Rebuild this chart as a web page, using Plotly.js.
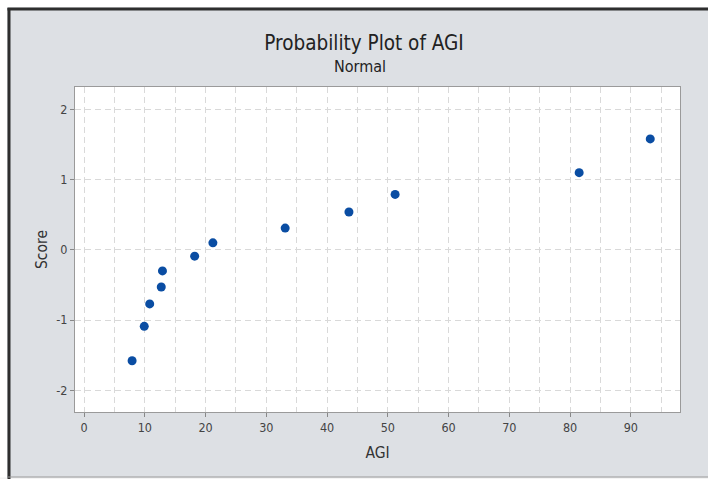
<!DOCTYPE html>
<html>
<head>
<meta charset="utf-8">
<script src="https://cdn.plot.ly/plotly-3.0.1.min.js"></script>
<style>
  html, body { margin: 0; padding: 0; background: #ffffff; }
  #chart { width: 708px; height: 479px; }
</style>
</head>
<body>
<div id="chart"></div>
<script>
// Data
const agi = [7.9, 9.9, 10.8, 12.7, 12.9, 18.2, 21.2, 33.1, 43.6, 51.2, 81.5, 93.2];
const score = [-1.58, -1.09, -0.77, -0.53, -0.30, -0.09, 0.10, 0.31, 0.54, 0.79, 1.10, 1.58];
const xTicks = [0, 10, 20, 30, 40, 50, 60, 70, 80, 90];
const yTicks = [-2, -1, 0, 1, 2];

const fontFam = "'DejaVu Sans Condensed', 'Open Sans', sans-serif";

const trace = {
  x: agi,
  y: score,
  type: 'scatter',
  mode: 'markers',
  marker: { color: '#0a4da3', size: 9 },
  hoverinfo: 'x+y',
  showlegend: false
};

// margins: plot area spans x 75..680, y 87..412
const L = 75, R = 28, T = 87, B = 67;
const W = 708 - L - R, H = 479 - T - B;
const px = p => (p - L) / W;          // pixel x -> paper x
const py = p => (479 - B - p) / H;    // pixel y -> paper y

const gridCol = '#d9d9d9';
const gridDash = '6px,4px';

const layout = {
  width: 708,
  height: 479,
  margin: { l: L, r: R, t: T, b: B, pad: 0 },
  paper_bgcolor: '#dde0e4',
  plot_bgcolor: '#ffffff',
  font: { family: fontFam, color: '#333333', size: 12 },
  title: {
    text: 'Probability Plot of AGI',
    font: { family: fontFam, size: 20.5, color: '#222222' },
    xref: 'container', x: 364 / 708, xanchor: 'center',
    yref: 'container', y: 1 - 43 / 479, yanchor: 'middle'
  },
  annotations: [{
    text: 'Normal',
    xref: 'paper', yref: 'paper',
    x: px(360), y: py(66),
    xanchor: 'center', yanchor: 'middle',
    showarrow: false,
    font: { family: fontFam, size: 16, color: '#222222' }
  }],
  xaxis: {
    range: [-1.5, 98.1],
    tickvals: xTicks,
    ticktext: xTicks.map(String),
    ticks: 'outside', ticklen: 4, tickcolor: '#888888',
    tickfont: { size: 12.5, color: '#444444' },
    showgrid: true, gridcolor: gridCol, griddash: gridDash, gridwidth: 1,
    minor: { dtick: 5, tick0: 0, showgrid: true, gridcolor: gridCol, griddash: gridDash, ticks: '' },
    zeroline: false,
    showline: true, linecolor: '#9a9a9a', linewidth: 1, mirror: true,
    title: { text: 'AGI', font: { size: 15.5, color: '#333333' }, standoff: 13 }
  },
  yaxis: {
    range: [-2.31, 2.32],
    tickvals: yTicks,
    ticktext: yTicks.map(String),
    ticks: 'outside', ticklen: 4, tickcolor: '#888888',
    tickfont: { size: 12.5, color: '#444444' },
    showgrid: true, gridcolor: gridCol, griddash: gridDash, gridwidth: 1,
    zeroline: false,
    showline: true, linecolor: '#9a9a9a', linewidth: 1, mirror: true,
    title: { text: 'Score', font: { size: 15.5, color: '#333333' }, standoff: 4 }
  },
  shapes: [
    { type: 'rect', xref: 'paper', yref: 'paper', x0: px(-5), x1: px(7), y0: py(490), y1: py(-5),
      fillcolor: '#ffffff', line: { width: 0 }, layer: 'above' },
    { type: 'rect', xref: 'paper', yref: 'paper', x0: px(-5), x1: px(715), y0: py(7.5), y1: py(-5),
      fillcolor: '#ffffff', line: { width: 0 }, layer: 'above' },
    { type: 'rect', xref: 'paper', yref: 'paper', x0: px(-5), x1: px(715), y0: py(490), y1: py(477.5),
      fillcolor: '#f4f4f4', line: { width: 0 }, layer: 'above' },
    { type: 'line', xref: 'paper', yref: 'paper', x0: px(9), x1: px(9), y0: py(479), y1: py(8),
      line: { color: '#2e2e2e', width: 3 }, layer: 'above' },
    { type: 'line', xref: 'paper', yref: 'paper', x0: px(7.5), x1: px(710), y0: py(9), y1: py(9),
      line: { color: '#2e2e2e', width: 3 }, layer: 'above' },
    { type: 'line', xref: 'paper', yref: 'paper', x0: px(8), x1: px(710), y0: py(477), y1: py(477),
      line: { color: '#9a9a9a', width: 1 }, layer: 'above' }
  ]
};

Plotly.newPlot('chart', [trace], layout, { displayModeBar: false, staticPlot: true });
</script>
</body>
</html>
